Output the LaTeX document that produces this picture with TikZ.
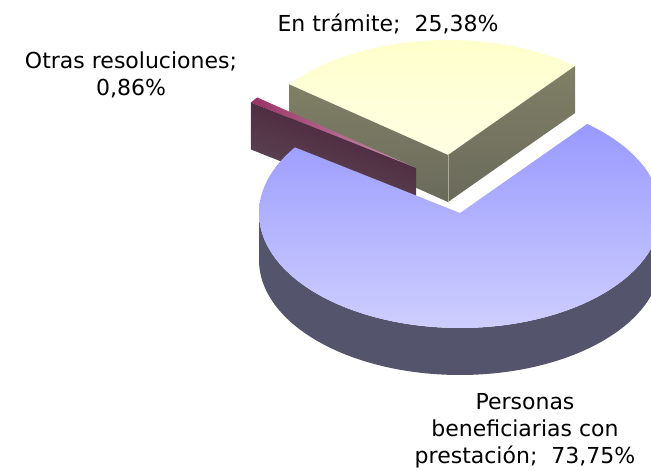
\documentclass[tikz,border=0pt]{standalone}
\usepackage{fontspec}
\setmainfont{DejaVu Sans}
\begin{document}
\begin{tikzpicture}[x=1pt,y=-1pt]
\definecolor{btopA}{RGB}{153,153,255}
\definecolor{btopB}{RGB}{206,206,255}
\definecolor{bside}{RGB}{84,84,108}
\definecolor{ytopA}{RGB}{255,255,204}
\definecolor{ytopB}{RGB}{255,255,228}
\definecolor{ysideA}{RGB}{128,128,102}
\definecolor{ysideB}{RGB}{106,106,92}
\definecolor{ptopA}{RGB}{153,51,102}
\definecolor{ptopB}{RGB}{205,150,178}
\definecolor{psideA}{RGB}{74,30,56}
\definecolor{psideB}{RGB}{96,80,90}
\tikzset{lbl/.style={font=\fontsize{22}{27}\selectfont, align=center, inner sep=0pt, text=black}}
\useasboundingbox (0,0) rectangle (651,471);
\clip (0,0) rectangle (651,471);
% centres
\coordinate (bc) at (460,213);
\coordinate (yc) at (448,155);
\coordinate (pc) at (416,168);
% ---------- yellow slice (En tramite)
\shade[top color=ytopA, bottom color=ytopB] (448,155) -- plot[domain=50.75:142.15,samples=80] ({448+201*cos(\x)},{155-115*sin(\x)}) -- cycle;
\shade[top color=ysideA, bottom color=ysideB]
  (448,155) -- ({448+201*cos(142.15)},{155-115*sin(142.15)}) -- ({448+201*cos(142.15)},{202-115*sin(142.15)}) -- (448,202) -- cycle;
\shade[top color=ysideA, bottom color=ysideB]
  (448,155) -- ({448+201*cos(50.75)},{155-115*sin(50.75)}) -- ({448+201*cos(50.75)},{202-115*sin(50.75)}) -- (448,202) -- cycle;
\draw[line width=0.6pt, color={rgb,255:red,170;green,170;blue,150}] (448,155) -- (448,202);
% ---------- purple slice (Otras resoluciones)
\shade[left color=ptopA, right color=ptopB] (416,168) -- plot[domain=142.15:145.25,samples=10] ({416+201*cos(\x)},{168-115*sin(\x)}) -- cycle;
\shade[top color=psideA, bottom color=psideB, shading angle=-20]
  (416,168) -- ({416+201*cos(145.25)},{168-115*sin(145.25)}) -- ({416+201*cos(145.25)},{215-115*sin(145.25)}) -- (416,215) -- cycle;
% ---------- blue slice (Personas beneficiarias)
\fill[bside] plot[domain=180:360,samples=120] ({460+201*cos(\x)},{213-115*sin(\x)}) -- plot[domain=360:180,samples=120] ({460+201*cos(\x)},{260-115*sin(\x)}) -- cycle;
\shade[top color=btopA, bottom color=btopB] (460,213) -- plot[domain=145.2:410.75,samples=160] ({460+201*cos(\x)},{213-115*sin(\x)}) -- cycle;
% ---------- labels
\node[lbl, anchor=base] (l1) at (388,31) {En trámite;~ 25,38\%};
\node[lbl, anchor=base] (l2) at (131,95) {Otras resoluciones;\\0,86\%};
\node[lbl, anchor=base] (l3) at (525,463) {Personas\\beneficiarias con\\prestación;~ 73,75\%};
\end{tikzpicture}
\end{document}
